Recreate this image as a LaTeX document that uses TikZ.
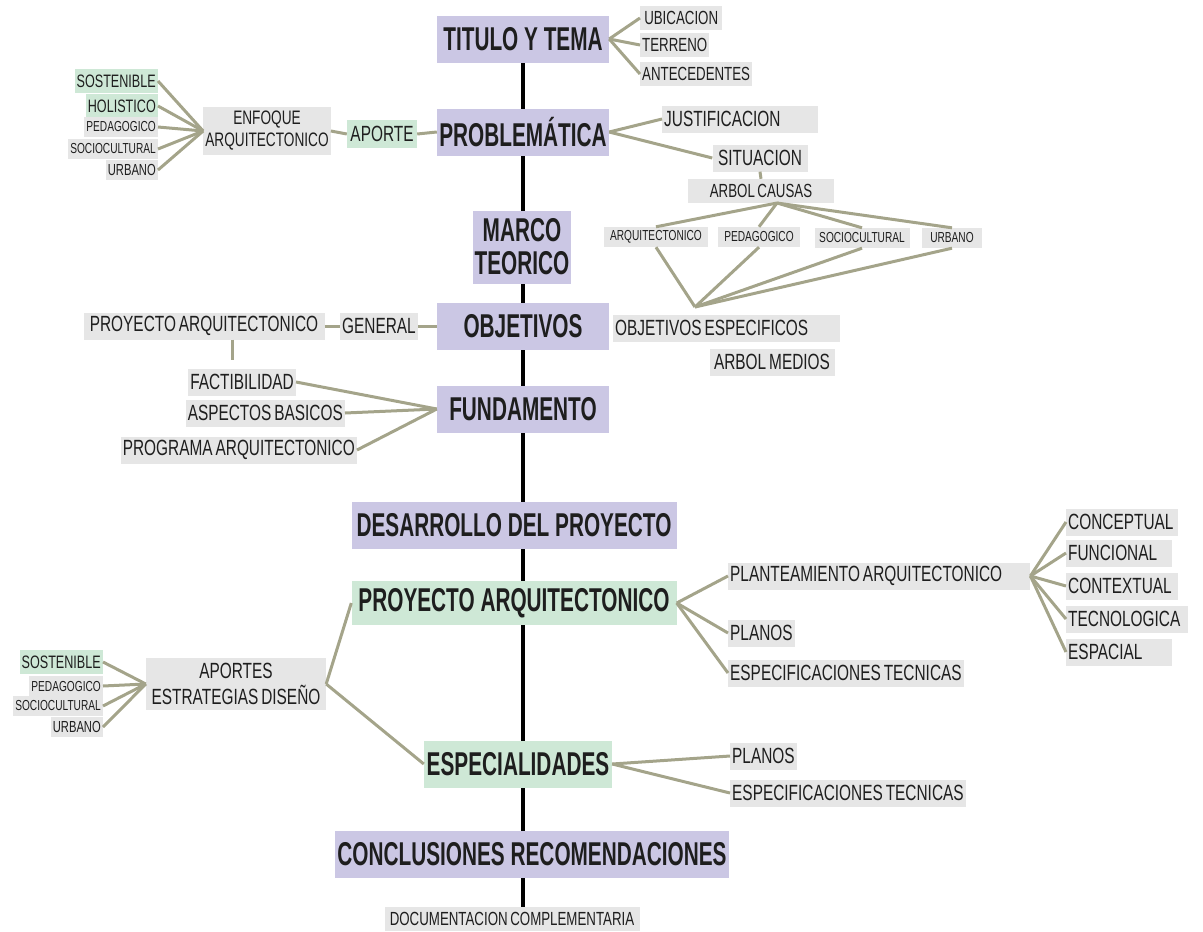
\documentclass[tikz,border=0pt]{standalone}
\usepackage{fontspec}
\usepackage{xcolor}
\usepackage{tikz}
\usetikzlibrary{positioning, backgrounds}
\newfontfamily\narrow[FakeStretch=0.7,WordSpace=0.7]{Liberation Sans}
\newfontfamily\narrowbf[FakeStretch=0.63]{Liberation Sans}
\definecolor{lila}{HTML}{CBC7E4}
\definecolor{menta}{HTML}{CEE8D6}
\definecolor{gris}{HTML}{E6E6E6}
\definecolor{oliva}{HTML}{A4A48A}
\definecolor{tinta}{HTML}{1E1E1E}

\begin{document}
\begin{tikzpicture}[x=1pt,y=-1pt]
	\tikzstyle{etapa}=[fill=lila,text=tinta,font=\narrowbf\bfseries\fontsize{33}{33}\selectfont,minimum height=47,inner sep=2]
	\tikzstyle{clave}=[etapa,fill=menta]
	\tikzstyle{tema}=[fill=gris,text=tinta,font=\narrow\fontsize{22}{26}\selectfont,inner xsep=2,inner ysep=3,minimum height=27]
	\tikzstyle{temita}=[tema,font=\narrow\fontsize{19}{22}\selectfont,minimum height=24]
	\tikzstyle{menor}=[tema,font=\narrow\fontsize{14.5}{16}\selectfont,minimum height=20]
	\tikzstyle{verde}=[fill=menta]
	\tikzstyle{rama}=[draw,color=oliva,line width=3]
	\tikzstyle{eje}=[draw,color=black,line width=3.5]
	\useasboundingbox (0,0) rectangle (1203,932);

	\node[etapa,minimum width=172](titulo) at (523,39){TITULO Y TEMA};
	\node[etapa,minimum width=172](problema) at (523,132){PROBLEMÁTICA};
	\node[etapa,minimum width=95,minimum height=73,align=center](marco) at (522,247){MARCO\\TEORICO};
	\node[etapa,minimum width=172](objetivos) at (523,326){OBJETIVOS};
	\node[etapa,minimum width=172](fundamento) at (523,409){FUNDAMENTO};
	\node[etapa,minimum width=325](desarrollo) at (514,525){DESARROLLO DEL PROYECTO};
	\node[clave,minimum width=325,minimum height=44](proyecto) at (514,603){PROYECTO ARQUITECTONICO};
	\node[clave,minimum width=188](especial) at (518,764){ESPECIALIDADES};
	\node[etapa,minimum width=392](conclus) at (532,854){CONCLUSIONES RECOMENDACIONES};
	\node[temita,minimum width=255](docu) at (512,919){DOCUMENTACION COMPLEMENTARIA};

	\node[temita,anchor=west,minimum width=82](ubic) at (640,18){UBICACION};
	\node[temita,anchor=west](terreno) at (640,45){TERRENO};
	\node[temita,anchor=west](antec) at (640,74){ANTECEDENTES};

	\node[tema,anchor=west,text width=152,align=flush left](justif) at (662,119){JUSTIFICACION};
	\node[tema,minimum width=95](situac) at (760,158){SITUACION};
	\node[temita,minimum width=146](arbolc) at (761,191){ARBOL CAUSAS};
	\node[menor,minimum width=104](tarq) at (656,237){ARQUITECTONICO};
	\node[menor,minimum width=82](tped) at (759,237){PEDAGOGICO};
	\node[menor,minimum width=95](tsoc) at (862,238){SOCIOCULTURAL};
	\node[menor,minimum width=60](turb) at (952,238){URBANO};
	\node[tema,anchor=west,text width=223,align=flush left](objesp) at (613,328){OBJETIVOS ESPECIFICOS};
	\node[tema,minimum width=125](arbolm) at (772,362){ARBOL MEDIOS};
	\coordinate (ac) at (777,203);
	\coordinate (oe) at (695,307);

	\node[tema,font=\narrow\fontsize{19.5}{22}\selectfont,minimum width=126,minimum height=48,align=center](enfoque) at (267,131){ENFOQUE\\ARQUITECTONICO};
	\node[tema,verde,minimum width=70,minimum height=28](aporte) at (382,134){APORTE};
	\node[temita,verde,font=\narrow\fontsize{18}{20}\selectfont,anchor=east](sost1) at (158,81){SOSTENIBLE};
	\node[temita,verde,font=\narrow\fontsize{18}{20}\selectfont,anchor=east](holi1) at (158,106){HOLISTICO};
	\node[menor,anchor=east](ped1) at (158,127){PEDAGOGICO};
	\node[menor,anchor=east](soc1) at (158,149){SOCIOCULTURAL};
	\node[menor,font=\narrow\fontsize{16}{18}\selectfont,anchor=east](urb1) at (158,170){URBANO};

	\node[tema,minimum width=241](proyarq) at (204,326){PROYECTO ARQUITECTONICO};
	\node[tema,minimum width=77](general) at (379,326){GENERAL};
	\coordinate (pa) at (232,360);
	\node[tema,anchor=east](factib) at (296,382){FACTIBILIDAD};
	\node[tema,anchor=east](aspect) at (345,413){ASPECTOS BASICOS};
	\node[tema,anchor=east](progr) at (357,450){PROGRAMA ARQUITECTONICO};

	\node[tema,anchor=west,text width=298,align=flush left](plant) at (728,576){PLANTEAMIENTO ARQUITECTONICO};
	\node[tema,anchor=west](planos1) at (728,633){PLANOS};
	\node[tema,anchor=west](espec1) at (728,673){ESPECIFICACIONES TECNICAS};
	\node[tema,anchor=west,text width=108,align=flush left](concep) at (1066,522){CONCEPTUAL};
	\node[tema,anchor=west,text width=102,align=flush left](funcio) at (1066,553){FUNCIONAL};
	\node[tema,anchor=west,text width=108,align=flush left](contex) at (1066,586){CONTEXTUAL};
	\node[tema,anchor=west,text width=118,align=flush left](tecno) at (1066,619){TECNOLOGICA};
	\node[tema,anchor=west,text width=102,align=flush left](espac) at (1066,652){ESPACIAL};

	\node[tema,font=\narrow\fontsize{22}{26}\selectfont,minimum width=180,minimum height=52,align=center](aportes) at (236,684){APORTES\\ESTRATEGIAS DISEÑO};
	\node[temita,verde,font=\narrow\fontsize{18}{20}\selectfont,anchor=east](sost2) at (103,662){SOSTENIBLE};
	\node[menor,anchor=east](ped2) at (103,686){PEDAGOGICO};
	\node[menor,anchor=east](soc2) at (103,706){SOCIOCULTURAL};
	\node[menor,font=\narrow\fontsize{16}{18}\selectfont,anchor=east](urb2) at (103,727){URBANO};
	\node[tema,anchor=west](planos2) at (730,756){PLANOS};
	\node[tema,anchor=west](espec2) at (730,793){ESPECIFICACIONES TECNICAS};

	\begin{scope}[on background layer]
		\path[eje] (titulo.south) edge (titulo.south |- docu.north);
	\end{scope}

	\path[rama]
		(titulo.east) edge (ubic.west)
		(titulo.east) edge (terreno.west)
		(titulo.east) edge (antec.west)
		(problema.east) edge (justif.west)
		(problema.east) edge (situac.west)
		(situac.south) edge (arbolc.north)
		(ac) edge (tarq.north)
		(ac) edge (tped.north)
		(ac) edge (tsoc.north)
		(ac) edge (turb.north)
		(tarq.south) edge (oe)
		(tped.south) edge (oe)
		(tsoc.south) edge (oe)
		(turb.south) edge (oe)
		(sost1.east) edge (enfoque.west)
		(holi1.east) edge (enfoque.west)
		(ped1.east) edge (enfoque.west)
		(soc1.east) edge (enfoque.west)
		(urb1.east) edge (enfoque.west)
		(enfoque.east) edge (aporte.west)
		(aporte.east) edge (problema.west)
		(proyarq.east) edge (general.west)
		(general.east) edge (objetivos.west)
		(proyarq.south -| pa) edge (pa)
		(factib.east) edge (fundamento.west)
		(aspect.east) edge (fundamento.west)
		(progr.east) edge (fundamento.west)
		(proyecto.east) edge (plant.west)
		(proyecto.east) edge (planos1.west)
		(proyecto.east) edge (espec1.west)
		(plant.east) edge (concep.west)
		(plant.east) edge (funcio.west)
		(plant.east) edge (contex.west)
		(plant.east) edge (tecno.west)
		(plant.east) edge (espac.west)
		(sost2.east) edge (aportes.west)
		(ped2.east) edge (aportes.west)
		(soc2.east) edge (aportes.west)
		(urb2.east) edge (aportes.west)
		(aportes.east) edge (proyecto.west)
		(aportes.east) edge (especial.west)
		(especial.east) edge (planos2.west)
		(especial.east) edge (espec2.west);
\end{tikzpicture}
\end{document}
